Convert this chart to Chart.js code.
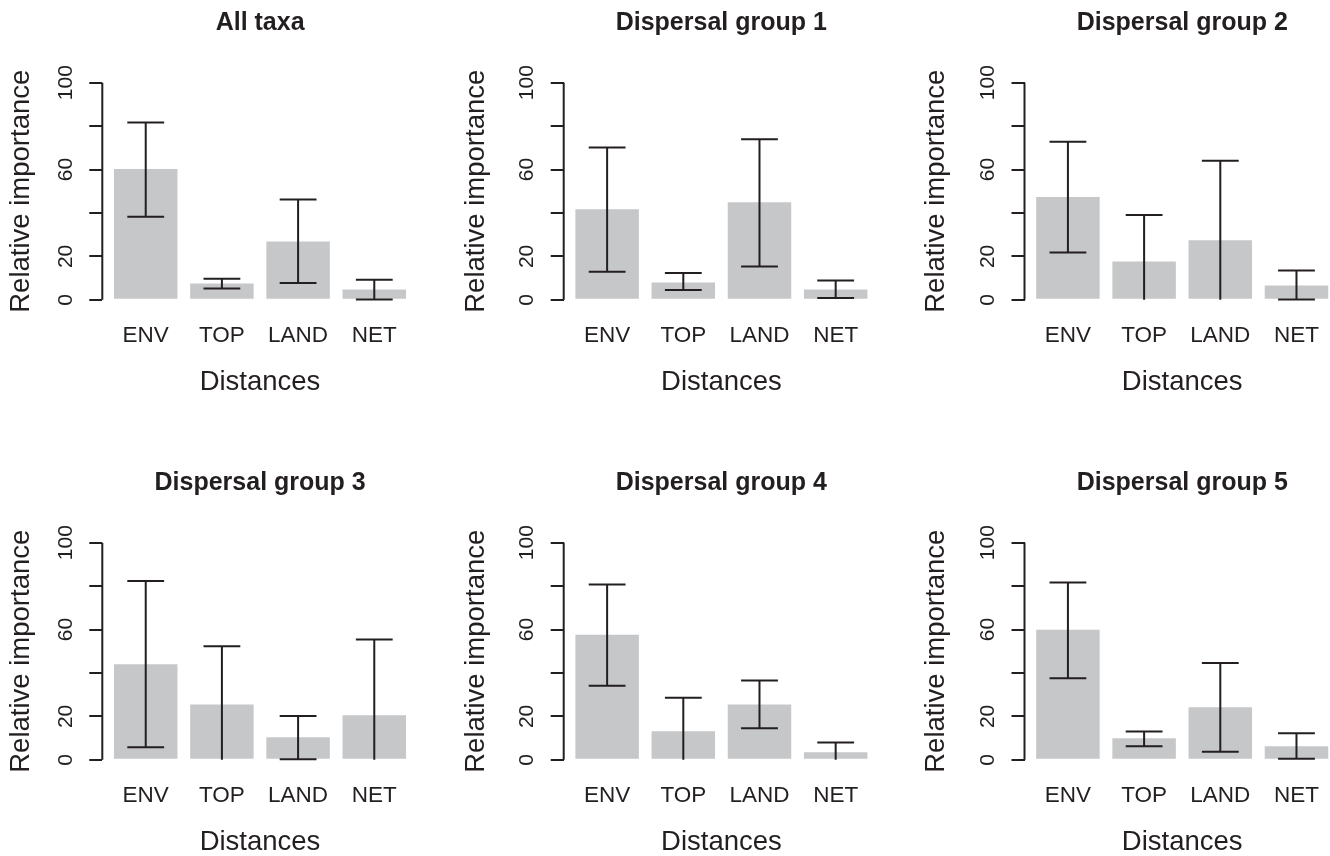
<!DOCTYPE html>
<html>
<head>
<meta charset="utf-8">
<script src="https://cdn.jsdelivr.net/npm/chart.js@4/dist/chart.umd.min.js"></script>
<style>
  html, body { margin: 0; padding: 0; background: #fff; }
  body { width: 1330px; height: 856px; position: relative; overflow: hidden; }
  canvas { position: absolute; }
</style>
</head>
<body>
<script>
const categories = ["ENV", "TOP", "LAND", "NET"];
const titles = ["All taxa", "Dispersal group 1", "Dispersal group 2",
                "Dispersal group 3", "Dispersal group 4", "Dispersal group 5"];
const yTicks = [0, 20, 40, 60, 80, 100];
const yTickLabels = ["0", "20", "", "60", "", "100"];

// bar heights, one row per panel
const means = [
  [60.2, 7.5, 26.9, 4.8],
  [41.7, 8.0, 44.9, 4.8],
  [47.4, 17.7, 27.4, 6.6],
  [44.0, 25.5, 10.4, 20.5],
  [57.6, 13.1, 25.5, 3.5],
  [59.9, 9.9, 24.2, 6.3]
];
// error bar ends (a lower end of 0 is truncated and has no cap)
const upper = [
  [81.7, 9.7, 46.2, 9.2],
  [70.2, 12.3, 74.0, 8.9],
  [72.8, 39.1, 64.0, 13.5],
  [82.3, 52.3, 20.2, 55.4],
  [80.7, 28.6, 36.5, 8.0],
  [81.7, 13.0, 44.6, 12.2]
];
const lower = [
  [38.3, 5.2, 7.7, 0.2],
  [12.9, 4.5, 15.4, 0.8],
  [21.8, 0, 0, 0.2],
  [5.8, 0, 0.3, 0],
  [34.1, 0, 14.5, 0],
  [37.6, 6.3, 3.7, 0.5]
];

const ink = "#231f20";
const barColor = "#c6c7c9";
const family = "'Liberation Sans', Arial, Helvetica, sans-serif";
Chart.defaults.font.family = family;

// page layout of the 2x3 grid
const colAxisX = [102.3, 563.7, 1024.5];   // left edge of each plot region
const colYTitleX = [21.7, 476, 936];       // centre of the rotated y title
const rowTop = [0, 460];
const plotW = 315.4;
const canvasH = 399;

titles.forEach((title, i) => {
  const row = Math.floor(i / 3);
  const col = i % 3;
  const canvasLeft = Math.round(colAxisX[col] - 120);
  const innerLeft = colAxisX[col] - canvasLeft;
  const padL = colYTitleX[col] - canvasLeft - 16.5;
  const W = Math.round(2 * (innerLeft + plotW / 2) - padL);
  const rightW = W - (innerLeft + plotW);

  const canvas = document.createElement("canvas");
  canvas.width = W;
  canvas.height = canvasH;
  canvas.style.left = canvasLeft + "px";
  canvas.style.top = rowTop[row] + "px";
  canvas.style.width = W + "px";
  canvas.style.height = canvasH + "px";
  document.body.appendChild(canvas);

  const hi = upper[i];
  const lo = lower[i];

  const errorBars = {
    id: "errorBars",
    afterDatasetsDraw(chart) {
      const ctx = chart.ctx;
      const y = chart.scales.y;
      const meta = chart.getDatasetMeta(0);
      ctx.save();
      ctx.strokeStyle = ink;
      ctx.lineWidth = 2;
      meta.data.forEach((bar, k) => {
        const yHi = y.getPixelForValue(hi[k]);
        const yLo = y.getPixelForValue(lo[k]);
        const half = bar.width * 0.29;
        ctx.beginPath();
        ctx.moveTo(bar.x, yLo);
        ctx.lineTo(bar.x, yHi);
        ctx.moveTo(bar.x - half, yHi);
        ctx.lineTo(bar.x + half, yHi);
        if (lo[k] > 0) {
          ctx.moveTo(bar.x - half, yLo);
          ctx.lineTo(bar.x + half, yLo);
        }
        ctx.stroke();
      });
      // y axis line, only over the tick range like R draws it
      const x0 = chart.chartArea.left;
      ctx.beginPath();
      ctx.moveTo(x0, y.getPixelForValue(yTicks[0]));
      ctx.lineTo(x0, y.getPixelForValue(yTicks[yTicks.length - 1]));
      ctx.stroke();
      ctx.restore();
    }
  };

  new Chart(canvas, {
    type: "bar",
    data: {
      datasets: [{
        data: means[i].map((v, k) => ({ x: k, y: v })),
        backgroundColor: barColor,
        borderWidth: 0,
        categoryPercentage: 1,
        barPercentage: 1 / 1.2
      }]
    },
    options: {
      responsive: false,
      animation: false,
      devicePixelRatio: 1,
      layout: { padding: { left: padL, right: 0, top: 0, bottom: 0 } },
      plugins: {
        legend: { display: false },
        tooltip: { enabled: false },
        title: {
          display: true,
          text: title,
          color: ink,
          font: { family, size: 25, weight: "bold", lineHeight: 1.2 },
          padding: { top: 8, bottom: 36 }
        }
      },
      scales: {
        x: {
          type: "linear",
          min: -0.57,
          max: 3.57,
          bounds: "data",
          offset: false,
          grid: { display: false, drawTicks: false, offset: false },
          border: { display: false },
          afterBuildTicks: s => { s.ticks = categories.map((_, k) => ({ value: k })); },
          afterFit: s => { s.height = 90.5; },
          ticks: {
            callback: (v, k) => categories[k],
            autoSkip: false,
            maxRotation: 0,
            color: ink,
            font: { family, size: 22.5, lineHeight: 1.2 },
            padding: 14
          },
          title: {
            display: true,
            text: "Distances",
            color: ink,
            font: { family, size: 27.5, lineHeight: 1.2 },
            padding: 0
          }
        },
        y: {
          type: "linear",
          position: "left",
          min: -4,
          max: 104,
          bounds: "data",
          afterBuildTicks: s => { s.ticks = yTicks.map(v => ({ value: v })); },
          afterFit: s => { s.width = innerLeft - padL; },
          grid: { drawOnChartArea: false, drawTicks: true, tickLength: 13, color: ink, lineWidth: 2 },
          border: { display: false },
          ticks: {
            callback: (v, k) => yTickLabels[k],
            autoSkip: false,
            minRotation: 90,
            maxRotation: 90,
            crossAlign: "center",
            padding: 6,
            color: ink,
            font: { family, size: 21 }
          },
          title: {
            display: true,
            text: "Relative importance",
            color: ink,
            font: { family, size: 27.5, lineHeight: 1.2 },
            padding: 0
          }
        },
        right: {
          type: "linear",
          position: "right",
          display: true,
          grid: { display: false, drawTicks: false },
          border: { display: false },
          ticks: { display: false },
          afterFit: s => { s.width = rightW; }
        }
      }
    },
    plugins: [errorBars]
  });
});
</script>
</body>
</html>
